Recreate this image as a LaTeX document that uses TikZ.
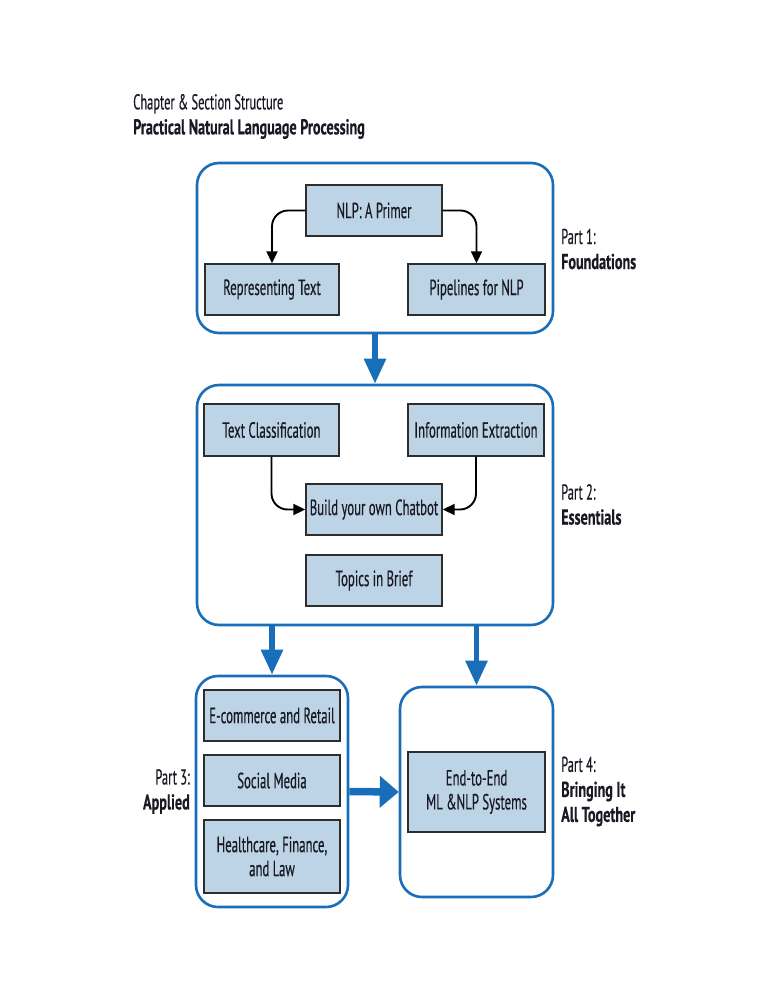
\documentclass[tikz,border=0pt]{standalone}
\usepackage{fontspec}
\setmainfont{PT Sans}[FakeStretch=0.58, FakeBold=0.35, BoldFeatures={FakeStretch=0.66}]
\usetikzlibrary{arrows.meta}
\definecolor{partblue}{RGB}{24,110,184}
\definecolor{boxfill}{RGB}{189,211,230}
\definecolor{boxline}{RGB}{45,45,45}
\definecolor{txt}{RGB}{25,25,35}
\tikzset{
  container/.style={draw=partblue, line width=2.6pt, rounded corners=22pt, fill=white, inner sep=0pt},
  chapbox/.style={draw=boxline, line width=1.4pt, fill=boxfill, inner sep=0pt, text=txt,
    font=\fontsize{22}{24}\selectfont, align=center},
  arr/.style={draw=black, line width=1.9pt, rounded corners=16pt, -{Triangle[length=12pt,width=11pt]}},
  bigarr/.style={draw=partblue, line width=5.5pt, -{Triangle[length=25pt,width=21pt]}},
  widearr/.style={draw=partblue, line width=7.5pt, -{Triangle[length=19pt,width=31pt]}},
  partlabel/.style={text=txt, font=\fontsize{21.5}{25}\selectfont, inner sep=0pt},
}
\begin{document}
\begin{tikzpicture}[x=1pt,y=-1pt]
\useasboundingbox (0,0) rectangle (772,1000);
% title
\node[partlabel, anchor=west, align=left] (title) at (133,116.5)
  {Chapter \& Section Structure\\\textbf{Practical Natural Language Processing}};
% containers
\node[container, minimum width=356pt, minimum height=170pt] (p1) at (375,248) {};
\node[container, minimum width=356pt, minimum height=240pt] (p2) at (375,505) {};
\node[container, minimum width=152pt, minimum height=231pt] (p3) at (272,791.5) {};
\node[container, minimum width=153pt, minimum height=210pt] (p4) at (476.5,792) {};
% boxes part 1
\node[chapbox, minimum width=136pt, minimum height=51pt] (primer) at (374,210.5) {NLP: A Primer};
\node[chapbox, minimum width=134pt, minimum height=51pt] (reptext) at (272,289.5) {Representing Text};
\node[chapbox, minimum width=137pt, minimum height=51pt] (pipes) at (476.5,289.5) {Pipelines for NLP};
% boxes part 2
\node[chapbox, minimum width=135pt, minimum height=52pt] (textclass) at (271.5,430) {Text Classification};
\node[chapbox, minimum width=136pt, minimum height=52pt] (infoext) at (476,430) {Information Extraction};
\node[chapbox, minimum width=136pt, minimum height=51pt] (chatbot) at (374,509.5) {Build your own Chatbot};
\node[chapbox, minimum width=136pt, minimum height=51pt] (topics) at (374,580.5) {Topics in Brief};
% boxes part 3
\node[chapbox, minimum width=136pt, minimum height=51pt] (ecom) at (272,715.5) {E-commerce and Retail};
\node[chapbox, minimum width=136pt, minimum height=51pt] (social) at (272,780.5) {Social Media};
\node[chapbox, minimum width=136pt, minimum height=73pt] (health) at (272,856.5) {Healthcare, Finance,\\and Law};
% box part 4
\node[chapbox, minimum width=137pt, minimum height=80pt] (e2e) at (476.5,792) {End-to-End\\ML \&NLP Systems};
% black arrows
\draw[arr] (primer.west) -| (reptext.north);
\draw[arr] (primer.east) -| (pipes.north);
\draw[arr] (textclass.south) |- (chatbot.west);
\draw[arr] (infoext.south) |- (chatbot.east);
% blue arrows
\draw[bigarr] (p1.south) -- (p2.north);
\draw[bigarr] (p2.south -| p3.north) -- (p3.north);
\draw[bigarr] (p2.south -| p4.north) -- (p4.north);
\draw[widearr] (p3.east) -- (p4.west);
% part labels
\node[partlabel, anchor=west, align=left] (l1) at (561,249) {Part 1:\\\textbf{Foundations}};
\node[partlabel, anchor=west, align=left] (l2) at (561,504.5) {Part 2:\\\textbf{Essentials}};
\node[partlabel, anchor=east, align=right] (l3) at (190,791.5) {Part 3:\\\textbf{Applied}};
\node[partlabel, anchor=west, align=left] (l4) at (561,791.5) {Part 4:\\\textbf{Bringing It}\\\textbf{All Together}};
\end{tikzpicture}
\end{document}
